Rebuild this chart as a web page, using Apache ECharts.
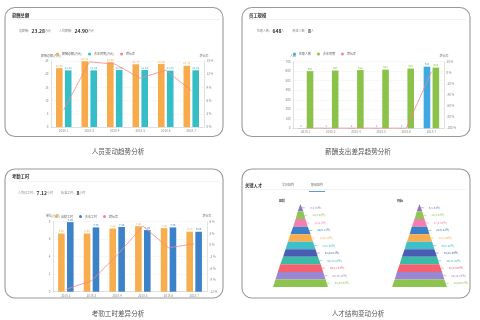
<!DOCTYPE html>
<html><head><meta charset="utf-8">
<script src="https://cdn.jsdelivr.net/npm/echarts@6/dist/echarts.min.js"></script>
<style>html,body{margin:0;padding:0;background:#fff}#c{width:480px;height:320px}</style>
</head><body><div id="c"></div>
<script>
// ---- data ----
const months = ['2018-1','2018-3','2018-4','2018-5','2018-6','2018-7'];
const salaryTotal = [22.30, 24.91, 24.55, 23.76, 23.92, 23.18];
const salaryLastYear = [21.45, 21.46, 21.60, 21.56, 21.35, 21.48];
const salaryGrowth = [3.9, 14.8, 14.3, 11.1, 12.9, 8.3];
const salaryKpi = ['23.28', '24.90'];
const salaryTicks = {min: 0, max: 25, interval: 5};
const salaryRateTicks = {min: 0, max: 15, interval: 3};

const headNow = [2, 2, 2, 2, 2, 648];
const headLastYear = [601, 607, 612, 617, 628, 638];
const headGrowth = [-99.7, -99.7, -99.7, -99.7, -99.7, 1.6];
const headKpi = ['648', '8'];
const headTicks = {min: 0, max: 700, interval: 100};
const headRateTicks = {min: -100, max: 20, interval: 20};

const hoursActual = [6.65, 6.65, 7.22, 7.48, 7.26, 6.86];
const hoursLastYear = [7.95, 7.35, 7.40, 7.04, 7.35, 6.85];
const hoursGrowth = [-11.4, -9.2, -2.6, 4.9, -0.7, 0.3];
const hoursKpi = ['7.12', '8'];
const hoursTicks = {min: 0, max: 8, interval: 2};
const hoursRateTicks = {min: -12, max: 6, interval: 3};

const levelNames = ['L11','L10','L9','L8','L7','L6','L5','L4','L3','L2','L1'];
const levelsNow = [7, 12, 18, 25, 31, 37, 43, 50, 56, 62, 68];
const levelsTarget = [6, 11, 17, 22, 28, 33, 39, 44, 50, 55, 61];

// ---- styles ----
const FONT = '"Noto Sans CJK SC","Noto Sans",sans-serif';
const levelColors = ['#8e73c8','#8fc554','#f37fb0','#3b7fc7','#f8ae4f','#3dc0c9','#4b5db3','#38bba7','#f2636f','#9a86d3','#8dc450'];
const RED = '#f4868c';

function catAxis(g){
  return {type:'category', gridIndex:g, data:months,
    axisLine:{lineStyle:{color:'#cfcfcf', width:0.6}},
    axisTick:{length:1.5, lineStyle:{color:'#cfcfcf', width:0.5}},
    axisLabel:{fontSize:3, color:'#888', margin:2.5, fontFamily:FONT}};
}
function valAxis(g, t, name, pos, pct){
  return {type:'value', gridIndex:g, position:pos, min:t.min, max:t.max, interval:t.interval,
    name:name, nameGap:4, nameTextStyle:{fontSize:3, color:'#777', fontFamily:FONT},
    axisLine:{show:true, lineStyle:{color:'#cfcfcf', width:0.6}},
    axisTick:{show:false},
    axisLabel:{fontSize:3, color:'#888', margin:2.5, fontFamily:FONT, formatter: pct ? '{value} %' : '{value}'},
    splitLine:{show: !pct, lineStyle:{color:'#f0f0f0', width:0.5}}};
}
function bar(name, data, xi, yi, color, fmt){
  return {type:'bar', name, data, xAxisIndex:xi, yAxisIndex:yi, barWidth:6.6, barGap:'35%',
    itemStyle:{color}, label:{show:true, position:'top', distance:1, fontSize:2.8, color, fontFamily:FONT, formatter:fmt}};
}
function line(data, xi, yi){
  return {type:'line', name:'增长率', data, xAxisIndex:xi, yAxisIndex:yi, showSymbol:false,
    lineStyle:{color:RED, width:0.8}, itemStyle:{color:RED}};
}
function funnel(vals, left){
  return {type:'funnel', sort:'ascending', left, top:204, width:55, height:83, gap:0,
    min:0, max:Math.max(...vals), minSize:0, maxSize:'100%',
    label:{position:'right', fontSize:2.8, fontFamily:FONT, formatter:'{c}({d}%)'},
    labelLine:{length:3, lineStyle:{width:0.5}},
    itemStyle:{borderWidth:0},
    data: vals.map((v,i)=>({value:v, name:levelNames[i], itemStyle:{color:levelColors[i]}, label:{color:levelColors[i]}, labelLine:{lineStyle:{color:levelColors[i]}}}))};
}
function legend(left, top, names){
  return {left, top, itemWidth:3, itemHeight:3, itemGap:6, icon:'circle', data:names,
    textStyle:{fontSize:3, color:'#666', fontFamily:FONT, padding:[0,0,0,-2]}};
}
function txt(x, y, text, size, color, opts){
  return Object.assign({type:'text', x, y, silent:true,
    style:Object.assign({text, fontSize:size, fill:color, fontFamily:FONT, verticalAlign:'middle', align:'left'}, opts||{})});
}
function hline(x1, x2, y, color, w){
  return {type:'line', silent:true, shape:{x1, y1:y, x2, y2:y}, style:{stroke:color, lineWidth:w||0.5}};
}
function panel(x, y, w, h){
  return {type:'rect', silent:true, shape:{x, y, width:w, height:h, r:10}, style:{fill:'#fff', stroke:'#9a9a9a', lineWidth:1.1}, z:-10};
}
function kpi(x, y, l1, v1, u1, l2, v2, u2){
  return {type:'text', x, y, silent:true, style:{
    text:`{l|${l1}} {v|${v1}}{l|${u1}}   {l|${l2}} {v|${v2}}{l|${u2}}`,
    verticalAlign:'middle', fontFamily:FONT,
    rich:{l:{fontSize:3, fill:'#888', fontFamily:FONT}, v:{fontSize:5, fontWeight:'bold', fill:'#333', fontFamily:FONT}}}};
}

const graphics = [
  panel(5, 7.5, 218, 129), panel(242, 7.5, 228, 129), panel(5, 169, 218, 129), panel(242, 169, 228, 129),
  txt(12, 15, '薪酬总额', 4.3, '#333', {fontWeight:'bold'}), hline(12, 220, 19.5, '#e6e6e6'),
  txt(249, 15, '员工规模', 4.3, '#333', {fontWeight:'bold'}), hline(249, 466, 19.5, '#e6e6e6'),
  txt(12, 176.5, '考勤工时', 4.3, '#333', {fontWeight:'bold'}), hline(12, 220, 181.5, '#e6e6e6'),
  txt(245, 185, '关键人才', 4.3, '#333', {fontWeight:'bold'}), hline(245, 466, 189.5, '#e6e6e6'),
  txt(288, 185, '学历结构', 3, '#777', {align:'center'}),
  txt(317, 185, '职级结构', 3, '#777', {align:'center'}),
  hline(309, 325, 191.5, '#3b7fc7', 0.8),
  txt(282, 201, '现状', 3, '#333', {align:'center', fontWeight:'bold'}),
  txt(400, 201, '目标', 3, '#333', {align:'center', fontWeight:'bold'}),
  kpi(19, 31, '总薪酬:', salaryKpi[0], '万元', '人均薪酬:', salaryKpi[1], '万元'),
  kpi(257, 31, '在职人数:', headKpi[0], '人', '新进人数:', headKpi[1], '人'),
  kpi(18, 193, '人均日工时:', hoursKpi[0], '小时', '标准工时:', hoursKpi[1], '小时'),
  txt(118, 151, '人员变动趋势分析', 6.6, '#555', {align:'center'}),
  txt(358, 151, '薪酬支出差异趋势分析', 6.6, '#555', {align:'center'}),
  txt(118, 313, '考勤工时差异分析', 6.6, '#555', {align:'center'}),
  txt(358, 313, '人才结构变动分析', 6.6, '#555', {align:'center'})
];

const option = {
  backgroundColor:'#fff',
  animation:false,
  textStyle:{fontFamily:FONT},
  graphic: graphics,
  legend:[
    legend(51, 47.5, ['薪酬总额(万元)','去年同期(万元)','增长率']),
    legend(288, 47.5, ['在职人数','去年同期','增长率']),
    legend(50, 210, ['出勤工时','去年工时','增长率'])
  ],
  grid:[
    {left:51, right:276, top:61, bottom:193},
    {left:293, right:36, top:61.7, bottom:191.7},
    {left:53, right:273, top:221.7, bottom:28.3}
  ],
  xAxis:[catAxis(0), catAxis(1), catAxis(2)],
  yAxis:[
    valAxis(0, salaryTicks, '薪酬总额(万元)', 'left', false),
    valAxis(0, salaryRateTicks, '增长率', 'right', true),
    valAxis(1, headTicks, '人数', 'left', false),
    valAxis(1, headRateTicks, '增长率', 'right', true),
    valAxis(2, hoursTicks, '单位(小时)', 'left', false),
    valAxis(2, hoursRateTicks, '增长率', 'right', true)
  ],
  series:[
    bar('薪酬总额(万元)', salaryTotal, 0, 0, '#f7ab4b', p=>p.value.toFixed(2)),
    bar('去年同期(万元)', salaryLastYear, 0, 0, '#35bec8', p=>p.value.toFixed(2)),
    line(salaryGrowth, 0, 1),
    bar('在职人数', headNow, 1, 2, '#3ea8e0', p=>p.value),
    bar('去年同期', headLastYear, 1, 2, '#8bc34a', p=>p.value),
    line(headGrowth, 1, 3),
    bar('出勤工时', hoursActual, 2, 4, '#f7ae4f', p=>p.value.toFixed(2)),
    bar('去年工时', hoursLastYear, 2, 4, '#3b82c8', p=>p.value.toFixed(2)),
    line(hoursGrowth, 2, 5),
    funnel(levelsNow, 273),
    funnel(levelsTarget, 392)
  ]
};
echarts.init(document.getElementById('c')).setOption(option);
</script></body></html>
